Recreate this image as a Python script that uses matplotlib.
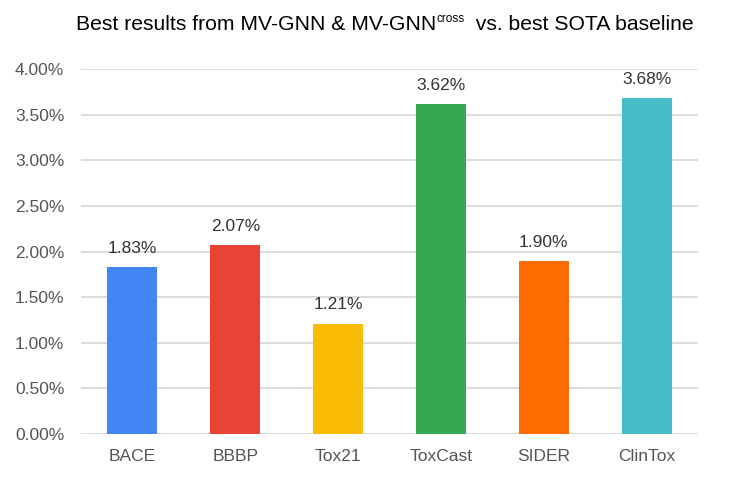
import matplotlib.pyplot as plt
from matplotlib.ticker import FuncFormatter
import numpy as np

plt.rcParams['font.family'] = ['Liberation Sans', 'DejaVu Sans']

datasets = ['BACE', 'BBBP', 'Tox21', 'ToxCast', 'SIDER', 'ClinTox']
gains = [1.83, 2.07, 1.21, 3.62, 1.90, 3.68]
bar_colors = ['#4285F4', '#EA4335', '#FBBC04', '#34A853', '#FF6D01', '#46BDC6']
yticks = [0.0, 0.5, 1.0, 1.5, 2.0, 2.5, 3.0, 3.5, 4.0]

W, H = 736, 478
fig = plt.figure(figsize=(W / 100, H / 100), dpi=100)
ax_l, ax_r, ax_t, ax_b = 81, 698, 69, 434
ax = fig.add_axes([ax_l / W, 1 - ax_b / H, (ax_r - ax_l) / W, (ax_b - ax_t) / H])

x = np.arange(len(datasets))
ax.bar(x, gains, width=0.485, color=bar_colors, zorder=3)
for xi, v in zip(x, gains):
    ax.annotate(f'{v:.2f}%', (xi, v), xytext=(0, 8), textcoords='offset points',
                ha='center', va='bottom', fontsize=12.5, color='#333333')

ax.set_xlim(-0.5, len(datasets) - 0.5)
ax.set_ylim(0, 4.0)
ax.set_yticks(yticks)
ax.yaxis.set_major_formatter(FuncFormatter(lambda v, p: f'{v:.2f}%'))
ax.set_xticks(x)
ax.set_xticklabels(datasets)
ax.tick_params(axis='both', length=0, labelsize=12.5, labelcolor='#555555')
ax.tick_params(axis='x', pad=11)
ax.tick_params(axis='y', pad=12)
ax.grid(axis='y', color='#d9d9d9', linewidth=1.3, zorder=0)
for s in ax.spines.values():
    s.set_visible(False)
ax.set_axisbelow(True)

# title with superscript "cross"
fig.canvas.draw()
r = fig.canvas.get_renderer()
base = 30  # baseline, px from top
parts = [('Best results from MV-GNN & MV-GNN', 15.2, 0),
         ('cross', 8.5, 8),
         ('  vs. best SOTA baseline', 15.2, 0)]
texts = [fig.text(0, 0, s, fontsize=fs, va='baseline', ha='left') for s, fs, dy in parts]
widths = [t.get_window_extent(r).width for t in texts]
start = 385 - sum(widths) / 2
for t, w, (s, fs, dy) in zip(texts, widths, parts):
    t.set_position((start / W, 1 - (base - dy) / H))
    start += w

fig.savefig('out.png', dpi=100)
